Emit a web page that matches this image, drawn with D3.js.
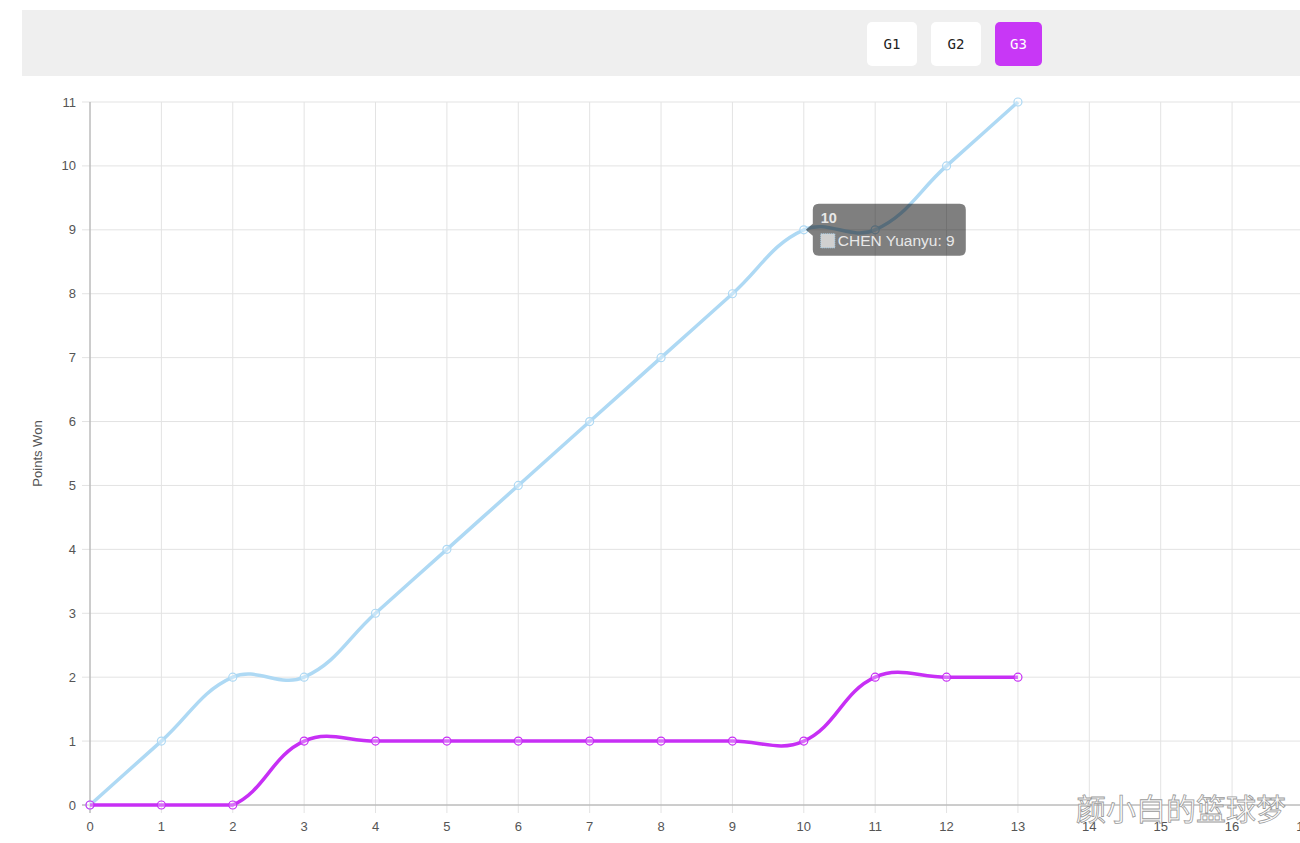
<!DOCTYPE html>
<html><head><meta charset="utf-8">
<script src="https://cdn.jsdelivr.net/npm/d3@7"></script>
<style>
html,body{margin:0;padding:0;background:#fff;overflow:hidden;}
svg{display:block;}
</style></head>
<body>
<svg id="c" width="1300" height="843"></svg>
<script>
const rounds = [0,1,2,3,4,5,6,7,8,9,10,11,12,13];
const chenYuanyu = [0,1,2,2,3,4,5,6,7,8,9,9,10,11];
const opponent   = [0,0,0,1,1,1,1,1,1,1,1,2,2,2];
const xTicks = d3.range(0,18);
const yTicks = d3.range(0,12);
const buttons = ["G1","G2","G3"];
const activeButton = "G3";
const tooltipIndex = 10;
const tooltipSeries = "CHEN Yuanyu";

const svg = d3.select("#c");
const x = d3.scaleLinear().domain([0,17]).range([90, 90 + 17*71.38]);
const y = d3.scaleLinear().domain([0,11]).range([805,102]);
const blue = "#aed9f4", purple = "#c72ff5";

// top bar
svg.append("rect").attr("x",22).attr("y",10).attr("width",1278).attr("height",66).attr("fill","#efefef");
const bx = d3.scaleOrdinal().domain(buttons).range([867,931,995]);
buttons.forEach(b=>{
  const act = b===activeButton;
  svg.append("rect").attr("x",bx(b)).attr("y",22).attr("width",act?47:50).attr("height",44).attr("rx",5)
    .attr("fill",act?"#c837f6":"#fff");
  svg.append("text").attr("x",bx(b)+(act?23.5:25)).attr("y",49).attr("text-anchor","middle")
    .attr("font-family","DejaVu Sans Mono, monospace").attr("font-size",14)
    .attr("fill",act?"#fff":"#222").text(b);
});

// grid
const g = svg.append("g");
g.selectAll(".vg").data(xTicks).join("line")
  .attr("x1",d=>x(d)).attr("x2",d=>x(d)).attr("y1",102).attr("y2",813)
  .attr("stroke","#e3e3e3").attr("stroke-width",1);
g.selectAll(".hg").data(yTicks).join("line")
  .attr("x1",82).attr("x2",1300).attr("y1",d=>y(d)).attr("y2",d=>y(d))
  .attr("stroke","#e3e3e3").attr("stroke-width",1);
// axis lines
g.append("line").attr("x1",x(0)).attr("x2",x(0)).attr("y1",102).attr("y2",813).attr("stroke","#a8a8a8");
g.append("line").attr("x1",82).attr("x2",1300).attr("y1",y(0)).attr("y2",y(0)).attr("stroke","#a8a8a8");

// tick labels
const lab = svg.append("g").attr("font-family","Liberation Sans, Arial, sans-serif").attr("font-size",13).attr("fill","#555");
lab.selectAll(".yl").data(yTicks).join("text").attr("x",76).attr("y",d=>y(d)+4.5).attr("text-anchor","end").text(d=>d);
lab.selectAll(".xl").data(xTicks).join("text").attr("x",d=>x(d)).attr("y",831).attr("text-anchor","middle").text(d=>d);
lab.append("text").attr("transform",`translate(42,${(y(0)+y(11))/2}) rotate(-90)`).attr("text-anchor","middle").text("Points Won");

// Chart.js style spline (tension 0.4) with control points capped to the chart area
function spline(xs, ys, t){
  const [L,R] = [x(0), x(17)], [B,T] = [y(0), y(11)];
  const pts = xs.map((v,i)=>({x:x(v), y:y(ys[i])}));
  pts.forEach((p,i)=>{
    const pr = pts[Math.max(0,i-1)], nx = pts[Math.min(pts.length-1,i+1)];
    const d01 = Math.hypot(p.x-pr.x,p.y-pr.y), d12 = Math.hypot(nx.x-p.x,nx.y-p.y);
    let s01 = d01/(d01+d12), s12 = d12/(d01+d12);
    if(isNaN(s01)) s01=0; if(isNaN(s12)) s12=0;
    const fa=t*s01, fb=t*s12;
    p.c1x = p.x - fa*(nx.x-pr.x); p.c1y = p.y - fa*(nx.y-pr.y);
    p.c2x = p.x + fb*(nx.x-pr.x); p.c2y = p.y + fb*(nx.y-pr.y);
    const cx = v=>Math.max(L,Math.min(R,v)), cy = v=>Math.max(T,Math.min(B,v));
    p.c1x=cx(p.c1x); p.c2x=cx(p.c2x); p.c1y=cy(p.c1y); p.c2y=cy(p.c2y);
  });
  const path = d3.path();
  path.moveTo(pts[0].x, pts[0].y);
  for(let i=1;i<pts.length;i++){
    const a=pts[i-1], b=pts[i];
    path.bezierCurveTo(a.c2x,a.c2y,b.c1x,b.c1y,b.x,b.y);
  }
  return path.toString();
}

function series(vals, color){
  svg.append("path").attr("d",spline(rounds, vals, 0.4)).attr("fill","none")
    .attr("stroke",color).attr("stroke-width",3.5);
  svg.append("g").selectAll("circle").data(rounds).join("circle")
    .attr("cx",d=>x(d)).attr("cy",(d,i)=>y(vals[i])).attr("r",4)
    .attr("fill","rgba(255,255,255,0.3)").attr("stroke",color).attr("stroke-width",1.2);
}
series(chenYuanyu, blue);
series(opponent, purple);

// tooltip
const px = x(rounds[tooltipIndex]), py = y(chenYuanyu[tooltipIndex]);
const tl = px + 9, tt = py - 26, tw = 153, th = 52;
const tip = svg.append("g");
tip.append("path").attr("d",
  `M${tl+6},${tt} H${tl+tw-6} Q${tl+tw},${tt} ${tl+tw},${tt+6} V${tt+th-6} Q${tl+tw},${tt+th} ${tl+tw-6},${tt+th} H${tl+6} Q${tl},${tt+th} ${tl},${tt+th-6} V${py+6} L${px+2},${py} L${tl},${py-6} V${tt+6} Q${tl},${tt} ${tl+6},${tt} Z`)
  .attr("fill","rgba(0,0,0,0.5)");
tip.append("text").attr("x",tl+8).attr("y",tt+19).attr("font-family","Liberation Sans, Arial, sans-serif")
  .attr("font-size",14.5).attr("font-weight","bold").attr("fill","#e8e8e8").text(rounds[tooltipIndex]);
tip.append("rect").attr("x",tl+8).attr("y",tt+30).attr("width",14).attr("height",14)
  .attr("fill","#d0d0d0").attr("stroke",blue).attr("stroke-width",1).attr("stroke-dasharray","1,1");
tip.append("text").attr("x",tl+25).attr("y",tt+42).attr("font-family","Liberation Sans, Arial, sans-serif")
  .attr("font-size",15.5).attr("fill","#e8e8e8").text(`${tooltipSeries}: ${chenYuanyu[tooltipIndex]}`);

// watermark
svg.append("text").attr("x",1076).attr("y",820).attr("font-family","Noto Sans CJK SC, sans-serif")
  .attr("font-size",30).attr("fill","#fff").attr("stroke","#9a9a9a").attr("stroke-width",0.8)
  .text("颜小白的篮球梦");
</script>
</body></html>
